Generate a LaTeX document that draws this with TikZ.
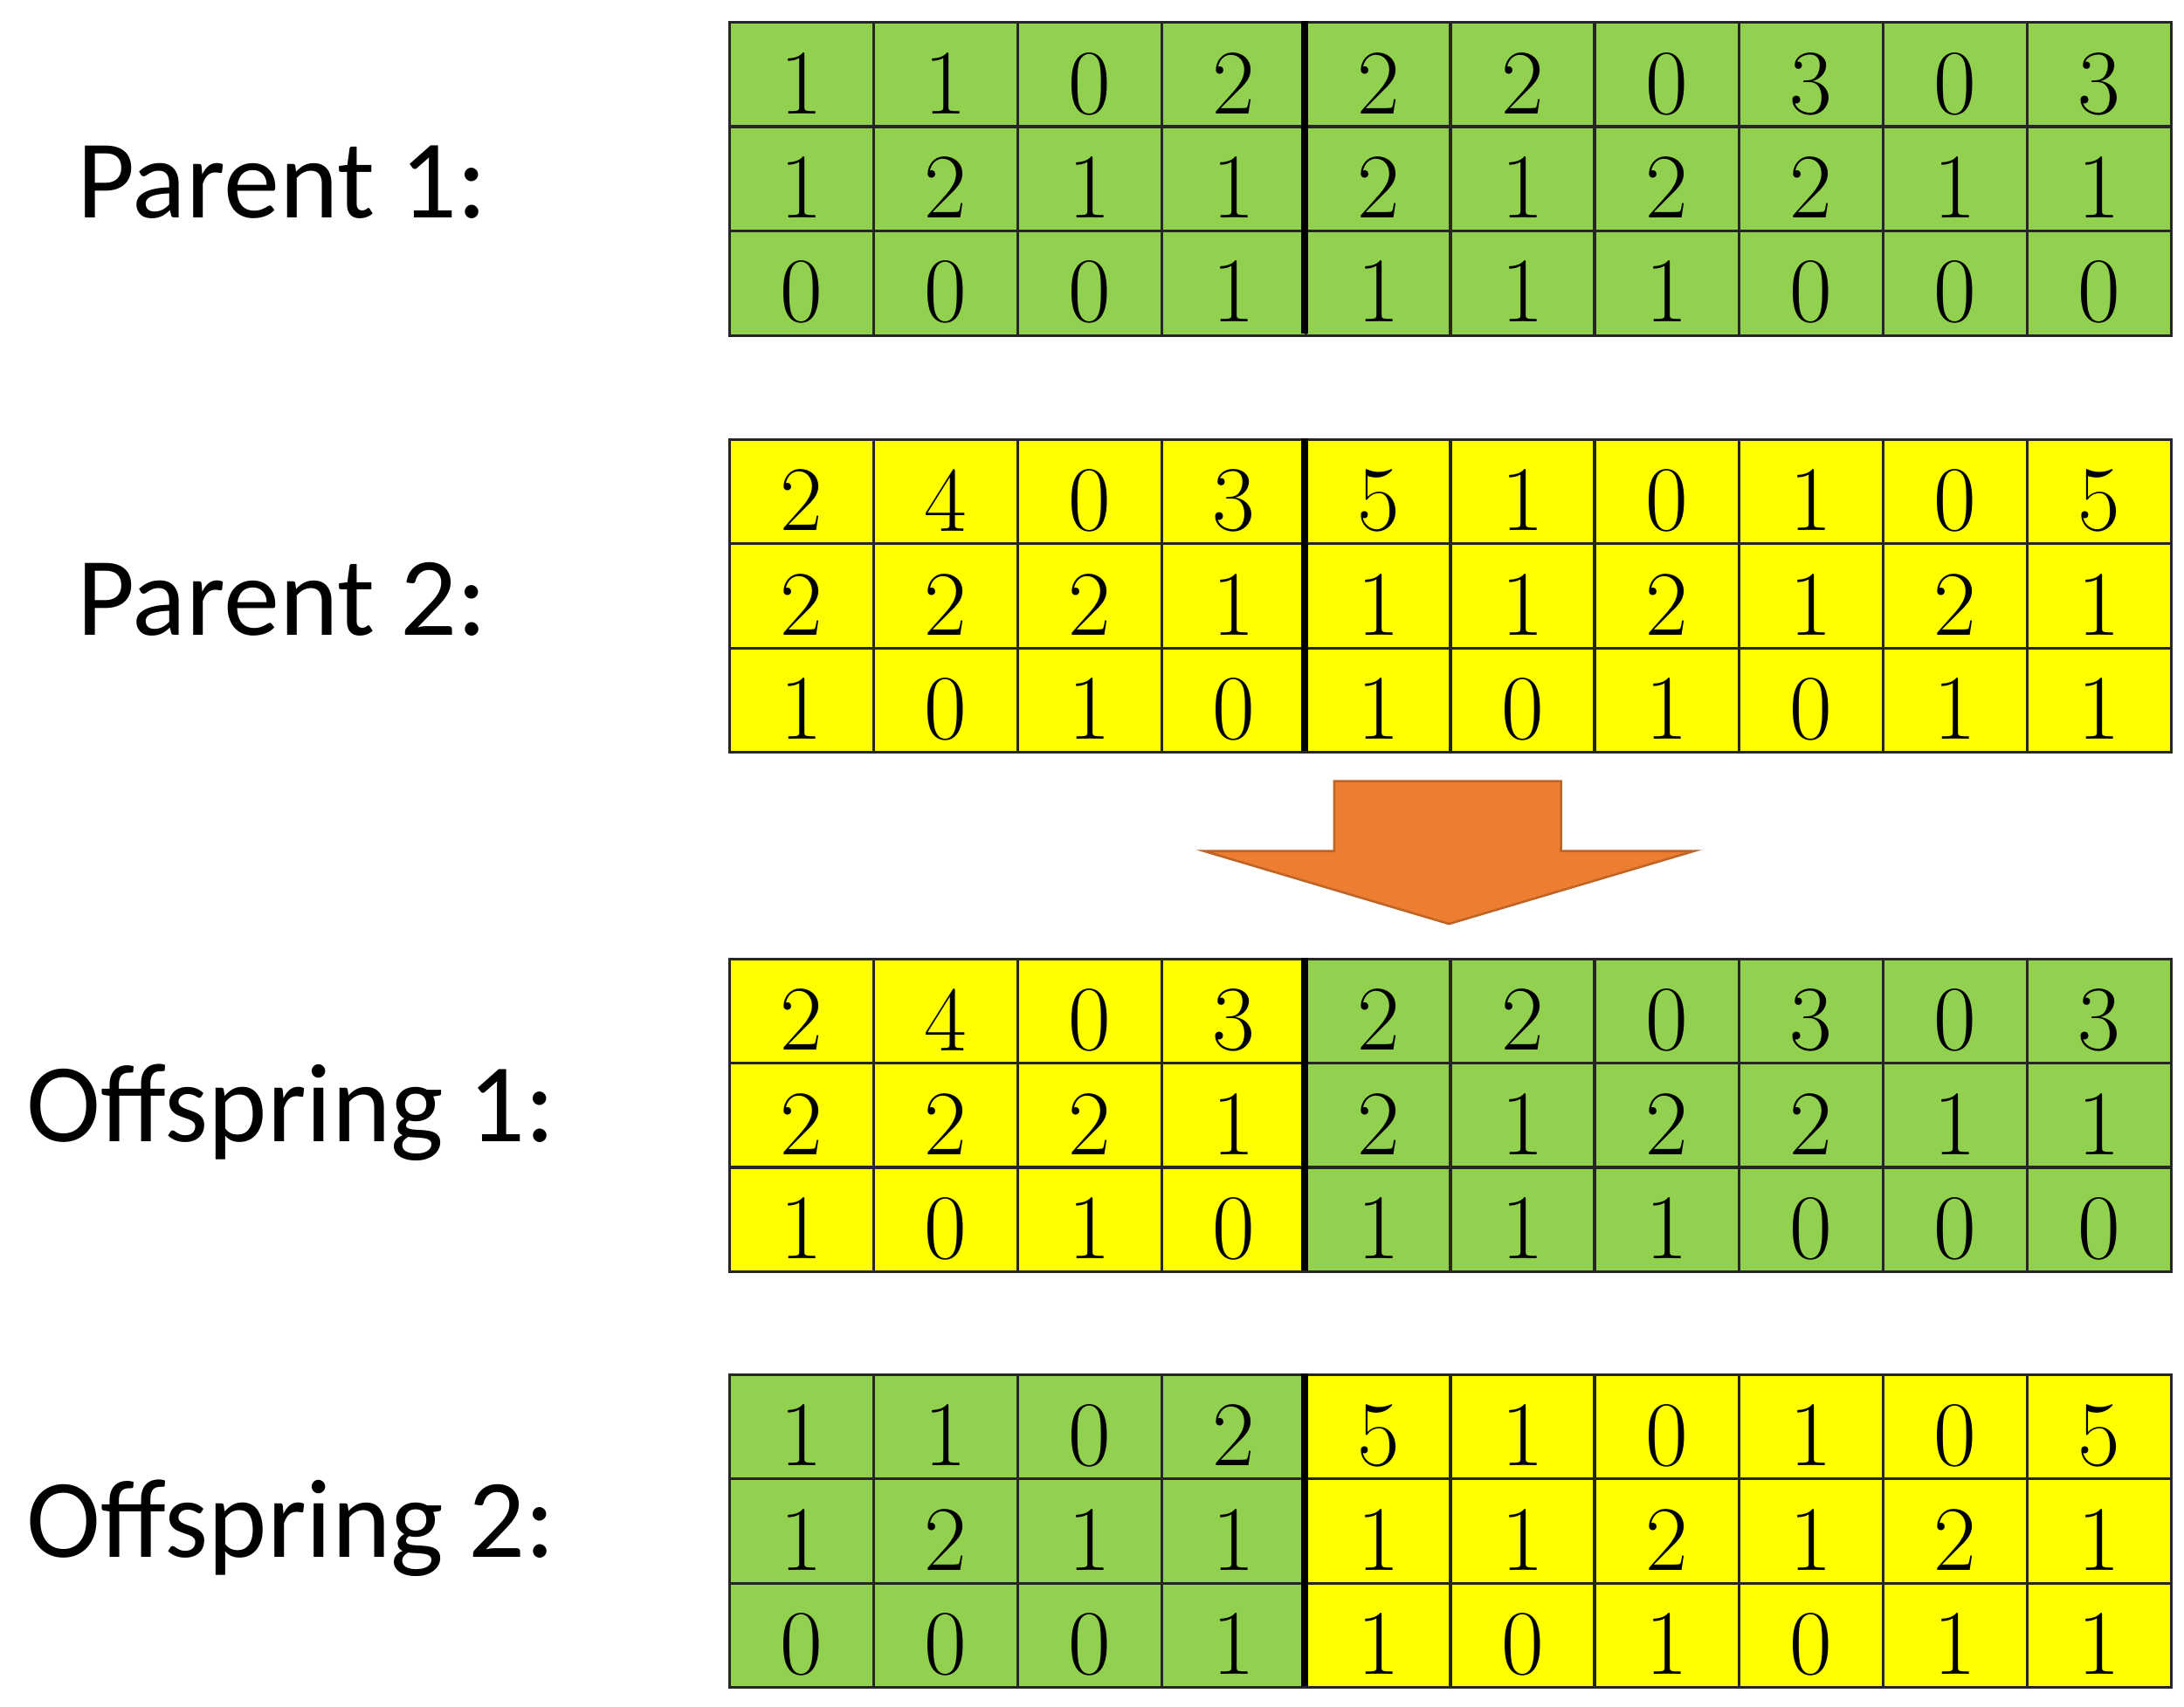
\documentclass[tikz,border=0pt]{standalone}
\usepackage{fontspec}
\newfontfamily\lab{Carlito}
\definecolor{gr}{HTML}{92D050}
\definecolor{ye}{HTML}{FFFF00}
\definecolor{og}{HTML}{ED7D31}
\begin{document}
\begin{tikzpicture}[x=0.5pt,y=-0.5pt,
  cell/.style={draw=black!85,line width=1pt,minimum width=51.5pt,minimum height=37.3pt,inner sep=0pt,anchor=north west,font=\fontsize{33}{33}\selectfont,text depth=0pt},
  lbl/.style={font=\lab\fontsize{40}{40}\selectfont,anchor=west}]
\useasboundingbox (0,0) rectangle (1560,1219);
% grid macro: #1 top y, #2 name, #3 colour left, #4 colour right, #5 rows
\newcommand\mygrid[5]{%
  \foreach \row [count=\r from 0] in {#5}{%
    \foreach \v [count=\c from 0] in \row {%
      \ifnum\c<4 \def\cc{#3}\else\def\cc{#4}\fi
      \node[cell,fill=\cc] (#2-\r-\c) at (520+\c*103,#1+\r*74.5) {\raisebox{-6pt}{\v}};
    }}
  \draw[line width=2.5pt] (932,#1) -- (932,#1+223.5);
}
\mygrid{15}{pa}{gr}{gr}{{1,1,0,2,2,2,0,3,0,3},{1,2,1,1,2,1,2,2,1,1},{0,0,0,1,1,1,1,0,0,0}}
\mygrid{313}{pb}{ye}{ye}{{2,4,0,3,5,1,0,1,0,5},{2,2,2,1,1,1,2,1,2,1},{1,0,1,0,1,0,1,0,1,1}}
\mygrid{684}{oa}{ye}{gr}{{2,4,0,3,2,2,0,3,0,3},{2,2,2,1,2,1,2,2,1,1},{1,0,1,0,1,1,1,0,0,0}}
\mygrid{981}{ob}{gr}{ye}{{1,1,0,2,5,1,0,1,0,5},{1,2,1,1,1,1,2,1,2,1},{0,0,0,1,1,0,1,0,1,1}}
\node[lbl] (l1) at (48,130) {Parent 1:};
\node[lbl] (l2) at (48,428) {Parent 2:};
\node[lbl] (l3) at (12,795) {Offspring 1:};
\node[lbl] (l4) at (12,1092) {Offspring 2:};
\draw[fill=og,draw=og!80!black,line width=0.8pt] (953,558) -- (1115,558) -- (1115,608) -- (1210,608) -- (1035,660) -- (860,608) -- (953,608) -- cycle;
\end{tikzpicture}
\end{document}
